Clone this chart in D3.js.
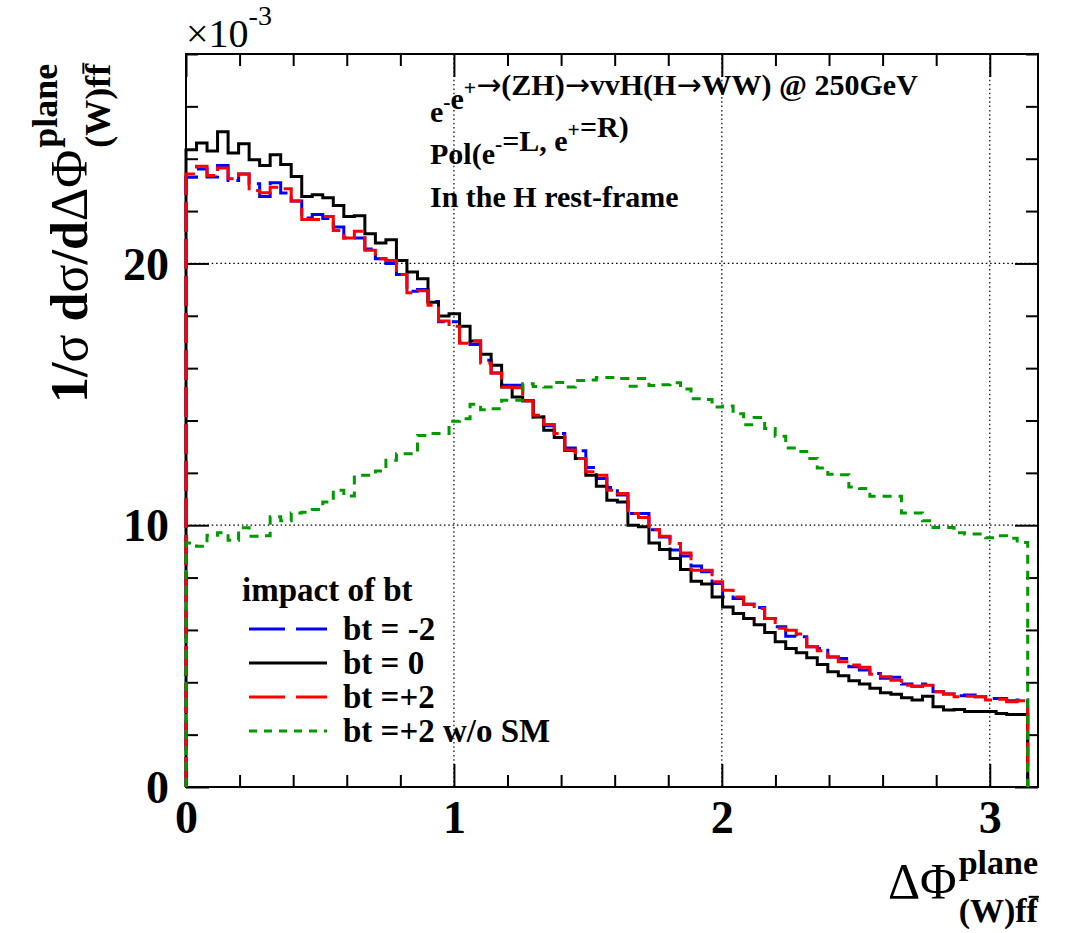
<!DOCTYPE html>
<html>
<head>
<meta charset="utf-8">
<script src="https://cdnjs.cloudflare.com/ajax/libs/d3/7.8.5/d3.min.js"></script>
<style>
  body { margin: 0; background: #ffffff; }
  svg text { font-family: "Liberation Serif", "Times New Roman", serif; fill: #000; }
</style>
</head>
<body>
<script>
'use strict';

// histogram binning: 80 bins between 0 and pi
const nBins = 80;
const histMax = Math.PI;

// bin contents (x 1e-3)
const btMinus2 = [23.29, 23.61, 23.30, 23.74, 23.17, 23.42, 23.04, 22.56, 23.08, 22.69,
  22.38, 21.74, 21.87, 21.72, 21.39, 20.97, 20.97, 20.55, 20.18, 20.00,
  19.58, 18.94, 19.00, 18.55, 17.77, 17.77, 17.00, 16.90, 16.30, 15.81,
  15.35, 15.35, 14.75, 14.13, 13.80, 13.50, 12.95, 12.84, 12.20, 11.78,
  11.44, 11.15, 10.45, 10.45, 9.83, 9.55, 9.05, 8.82, 8.44, 8.22,
  7.77, 7.26, 7.20, 6.98, 6.86, 6.44, 6.12, 5.76, 5.74, 5.36,
  5.29, 4.97, 4.91, 4.59, 4.47, 4.34, 4.15, 4.19, 3.93, 3.85,
  3.93, 3.64, 3.55, 3.49, 3.51, 3.45, 3.38, 3.38, 3.29, 3.32];

const bt0 = [24.34, 24.60, 24.29, 25.03, 24.22, 24.57, 23.96, 23.74, 24.15, 23.78,
  23.32, 22.56, 22.62, 22.51, 22.21, 21.79, 21.82, 21.13, 20.78, 20.90,
  20.11, 19.67, 19.41, 18.52, 17.99, 18.08, 17.60, 17.04, 16.53, 16.11,
  15.28, 14.90, 14.75, 14.13, 13.63, 13.35, 12.85, 12.55, 11.91, 11.49,
  10.95, 10.89, 10.00, 9.94, 9.32, 9.07, 8.73, 8.31, 7.86, 7.75,
  7.26, 6.88, 6.63, 6.44, 6.20, 5.90, 5.55, 5.29, 5.13, 4.94,
  4.68, 4.40, 4.25, 4.06, 3.93, 3.77, 3.60, 3.54, 3.41, 3.32,
  3.47, 3.07, 2.94, 2.96, 2.88, 2.88, 2.88, 2.81, 2.77, 2.77];

const btPlus2 = [23.42, 23.71, 23.36, 23.65, 23.23, 23.42, 22.79, 22.70, 22.91, 22.85,
  22.38, 21.68, 21.68, 21.79, 21.26, 20.97, 21.23, 20.50, 20.18, 20.11,
  19.58, 18.88, 18.96, 18.40, 17.80, 17.60, 16.95, 17.04, 16.20, 15.81,
  15.28, 15.25, 14.75, 14.20, 13.85, 13.50, 12.87, 12.55, 12.04, 11.91,
  11.34, 11.21, 10.45, 10.29, 9.83, 9.58, 9.30, 8.94, 8.28, 8.28,
  7.84, 7.52, 7.26, 6.98, 6.82, 6.44, 6.06, 5.99, 5.84, 5.36,
  5.20, 4.97, 4.78, 4.66, 4.57, 4.31, 4.21, 4.08, 3.89, 3.85,
  3.89, 3.64, 3.55, 3.45, 3.47, 3.45, 3.32, 3.35, 3.26, 3.29];

const btPlus2NoSM = [9.32, 9.20, 9.62, 9.71, 9.43, 9.90, 9.58, 9.60, 10.32, 10.17,
  10.47, 10.50, 10.60, 10.89, 11.34, 11.12, 11.91, 11.91, 12.07, 12.48,
  12.73, 12.73, 13.43, 13.50, 13.50, 13.97, 14.07, 14.62, 14.41, 14.45,
  14.77, 14.77, 15.40, 15.30, 15.28, 15.45, 15.28, 15.53, 15.55, 15.64,
  15.64, 15.60, 15.31, 15.60, 15.34, 15.37, 15.44, 15.20, 14.83, 14.80,
  14.52, 14.55, 14.26, 13.84, 14.11, 13.69, 13.40, 12.95, 12.82, 12.55,
  12.19, 11.95, 11.93, 11.46, 11.40, 11.11, 11.11, 11.11, 10.47, 10.47,
  10.17, 9.91, 9.91, 9.71, 9.66, 9.66, 9.52, 9.60, 9.50, 9.34];

// axis ticks and labels
const xMajorTicks = [0, 1, 2, 3];
const xTickLabels = ['0', '1', '2', '3'];
const yMajorTicks = [0, 10, 20];
const yTickLabels = ['0', '10', '20'];

// legend
const legendTitle = 'impact of bt';
const legendLabels = ['bt = -2', 'bt = 0', 'bt =+2', 'bt =+2 w/o SM'];

(function() {

  let svgContainer = "";
  const frame = { left: 186, right: 1038, top: 54, bottom: 787 };

  window.onload = function() {
    svgContainer = d3.select('body')
      .append('svg')
      .attr('width', 1076)
      .attr('height', 933);

    let map = drawAxes();
    plotData(map);
    makeLegend();
    makeLabels();
  }

  // frame, grid, ticks and tick labels
  function drawAxes() {
    let xScale = d3.scaleLinear().domain([0, 3.18]).range([frame.left, frame.right]);
    let yScale = d3.scaleLinear().domain([0, 28]).range([frame.bottom, frame.top]);

    // dotted grid at the major ticks
    let grid = svgContainer.append('g');
    grid.selectAll('.gx')
      .data(xMajorTicks.filter(d => d > 0))
      .enter()
      .append('line')
        .attr('x1', d => xScale(d)).attr('x2', d => xScale(d))
        .attr('y1', frame.top).attr('y2', frame.bottom)
        .attr('stroke', '#000').attr('stroke-width', 1.2)
        .attr('stroke-dasharray', '1.5,2.8');
    grid.selectAll('.gy')
      .data(yMajorTicks.filter(d => d > 0))
      .enter()
      .append('line')
        .attr('y1', d => yScale(d)).attr('y2', d => yScale(d))
        .attr('x1', frame.left).attr('x2', frame.right)
        .attr('stroke', '#000').attr('stroke-width', 1.2)
        .attr('stroke-dasharray', '1.5,2.8');

    let xMinor = d3.range(0, 3.18, 0.2).filter(d => Math.abs(d - Math.round(d)) > 1e-6);
    let yMinor = d3.range(0, 28.01, 2).filter(d => d % 10 !== 0);

    // bottom axis (ticks pointing inward)
    let xAxis = svgContainer.append('g')
      .attr('transform', `translate(0, ${frame.bottom})`)
      .call(d3.axisBottom(xScale).tickValues(xMajorTicks).tickSize(-23).tickPadding(13)
        .tickFormat((d, i) => xTickLabels[i]));
    svgContainer.append('g')
      .attr('transform', `translate(0, ${frame.bottom})`)
      .call(d3.axisBottom(xScale).tickValues(xMinor).tickSize(-12).tickFormat(''));
    // top axis
    svgContainer.append('g')
      .attr('transform', `translate(0, ${frame.top})`)
      .call(d3.axisTop(xScale).tickValues(xMajorTicks).tickSize(-23).tickFormat(''));
    svgContainer.append('g')
      .attr('transform', `translate(0, ${frame.top})`)
      .call(d3.axisTop(xScale).tickValues(xMinor).tickSize(-12).tickFormat(''));

    // left axis
    let yAxis = svgContainer.append('g')
      .attr('transform', `translate(${frame.left}, 0)`)
      .call(d3.axisLeft(yScale).tickValues(yMajorTicks).tickSize(-23).tickPadding(17)
        .tickFormat((d, i) => yTickLabels[i]));
    svgContainer.append('g')
      .attr('transform', `translate(${frame.left}, 0)`)
      .call(d3.axisLeft(yScale).tickValues(yMinor).tickSize(-12).tickFormat(''));
    // right axis
    svgContainer.append('g')
      .attr('transform', `translate(${frame.right}, 0)`)
      .call(d3.axisRight(yScale).tickValues(yMajorTicks).tickSize(-23).tickFormat(''));
    svgContainer.append('g')
      .attr('transform', `translate(${frame.right}, 0)`)
      .call(d3.axisRight(yScale).tickValues(yMinor).tickSize(-12).tickFormat(''));

    svgContainer.selectAll('.domain').remove();
    svgContainer.selectAll('.tick line').attr('stroke', '#000').attr('stroke-width', 2);
    svgContainer.selectAll('.tick text')
      .attr('fill', '#000')
      .style('font-family', '"Liberation Serif", "Times New Roman", serif')
      .style('font-weight', 'bold')
      .style('font-size', '46px');
    xAxis.selectAll('.tick text').attr('dy', '0.71em');
    yAxis.selectAll('.tick text').attr('dy', '0.34em');

    // frame
    svgContainer.append('rect')
      .attr('x', frame.left).attr('y', frame.top)
      .attr('width', frame.right - frame.left)
      .attr('height', frame.bottom - frame.top)
      .attr('fill', 'none')
      .attr('stroke', '#000')
      .attr('stroke-width', 2);

    return { xScale: xScale, yScale: yScale };
  }

  // draw the four histograms as step lines
  function plotData(map) {
    let xScale = map.xScale;
    let yScale = map.yScale;
    let edges = d3.range(nBins + 1).map(i => i * histMax / nBins);

    let line = d3.line()
      .x(d => xScale(d[0]))
      .y(d => yScale(d[1]))
      .curve(d3.curveStepAfter);

    function histPoints(values) {
      let pts = [[0, 0]];
      values.forEach((v, i) => pts.push([edges[i], v]));
      pts.push([edges[nBins], 0]);
      return pts;
    }

    let series = [
      { values: btMinus2, color: '#0000ff', dash: '30,7' },
      { values: bt0, color: '#000000', dash: null },
      { values: btPlus2, color: '#ff0000', dash: '30,7' },
      { values: btPlus2NoSM, color: '#009a00', dash: '9,7' }
    ];

    series.forEach(s => {
      svgContainer.append('path')
        .datum(histPoints(s.values))
        .attr('fill', 'none')
        .attr('stroke', s.color)
        .attr('stroke-width', 3)
        .attr('stroke-dasharray', s.dash)
        .attr('d', line);
    });
  }

  function makeLegend() {
    let colors = ['#0000ff', '#000000', '#ff0000', '#009a00'];
    let dashes = ['36,11', null, '36,11', '8,7'];

    svgContainer.append('text')
      .attr('x', 242)
      .attr('y', 601)
      .style('font-size', '33px')
      .style('font-weight', 'bold')
      .text(legendTitle);

    legendLabels.forEach((label, i) => {
      let cy = 629 + i * 34;
      svgContainer.append('line')
        .attr('x1', 249).attr('x2', 327)
        .attr('y1', cy).attr('y2', cy)
        .attr('stroke', colors[i])
        .attr('stroke-width', 3)
        .attr('stroke-dasharray', dashes[i]);
      svgContainer.append('text')
        .attr('x', 343)
        .attr('y', cy + 11)
        .style('font-size', '33px')
        .style('font-weight', 'bold')
        .text(label);
    });
  }

  // runs of one text line: plain, superscript or arrow
  function addRuns(textSel, runs, size) {
    runs.forEach(r => {
      if (r.sup) {
        textSel.append('tspan').attr('dy', -size * 0.45)
          .style('font-size', (size * 0.72) + 'px').text(r.t);
        textSel.append('tspan').attr('dy', size * 0.45).text('');
      } else if (r.arrow) {
        textSel.append('tspan')
          .style('font-family', '"DejaVu Sans", sans-serif')
          .style('font-weight', 'normal')
          .text('→');
      } else {
        textSel.append('tspan').text(r.t);
      }
    });
  }

  function makeLabels() {
    // exponent
    let ex = svgContainer.append('text')
      .attr('x', 186)
      .attr('y', 47)
      .style('font-size', '40px');
    ex.append('tspan').text('×10');
    ex.append('tspan').attr('dy', -22).style('font-size', '28px').text('-3');

    // process text
    let size = 30;
    let l1 = svgContainer.append('text').attr('x', 430).attr('y', 122)
      .style('font-size', size + 'px').style('font-weight', 'bold');
    addRuns(l1, [{ t: 'e' }, { t: '-', sup: true }, { t: 'e' }, { t: '+', sup: true },
      { arrow: true }, { t: '(ZH)' }, { arrow: true }, { t: 'vvH(H' }, { arrow: true },
      { t: 'WW) @ 250GeV' }], size);

    let l2 = svgContainer.append('text').attr('x', 430).attr('y', 164)
      .style('font-size', size + 'px').style('font-weight', 'bold');
    addRuns(l2, [{ t: 'Pol(e' }, { t: '-', sup: true }, { t: '=L, e' }, { t: '+', sup: true },
      { t: '=R)' }], size);

    svgContainer.append('text').attr('x', 430).attr('y', 207)
      .style('font-size', size + 'px').style('font-weight', 'bold')
      .text('In the H rest-frame');

    // y title, rotated
    let yTitle = svgContainer.append('g').attr('transform', 'translate(87, 403) rotate(-90)');
    let yMain = yTitle.append('text').attr('x', 0).attr('y', 0).style('font-size', '52px');
    yMain.append('tspan').style('font-weight', 'bold').text('1/');
    yMain.append('tspan').text('σ');
    yMain.append('tspan').style('font-weight', 'bold').text(' d');
    yMain.append('tspan').text('σ');
    yMain.append('tspan').style('font-weight', 'bold').text('/d');
    yMain.append('tspan').text('ΔΦ');
    let yLen = yMain.node().getComputedTextLength();
    addScripts(yTitle, yLen + 2, -30, 23, 36);

    // x title, right aligned at the frame edge
    let xTitle = svgContainer.append('g').attr('transform', 'translate(0, 898)');
    let xMain = xTitle.append('text').attr('x', 0).attr('y', 0).style('font-size', '50px').text('ΔΦ');
    let xLen = xMain.node().getComputedTextLength();
    let scriptLen = addScripts(xTitle, xLen + 2, -24, 24, 34);
    xTitle.attr('transform', `translate(${frame.right - xLen - 2 - scriptLen}, 898)`);
  }

  // "plane" superscript and "(W)ff-bar" subscript, returns the width used
  function addScripts(g, x0, supY, subY, size) {
    let sup = g.append('text').attr('x', x0).attr('y', supY)
      .style('font-size', size + 'px').style('font-weight', 'bold').text('plane');
    let sub = g.append('text').attr('x', x0).attr('y', subY)
      .style('font-size', size + 'px').style('font-weight', 'bold').text('(W)ff');
    let n = sub.node();
    let bx1 = n.getStartPositionOfChar(4).x;
    let bx2 = n.getEndPositionOfChar(4).x;
    g.append('line')
      .attr('x1', bx1 + 2).attr('x2', bx2 + 1)
      .attr('y1', subY - size * 0.74).attr('y2', subY - size * 0.74)
      .attr('stroke', '#000').attr('stroke-width', 2);
    return Math.max(sup.node().getComputedTextLength(), n.getComputedTextLength());
  }

})();
</script>
</body>
</html>
